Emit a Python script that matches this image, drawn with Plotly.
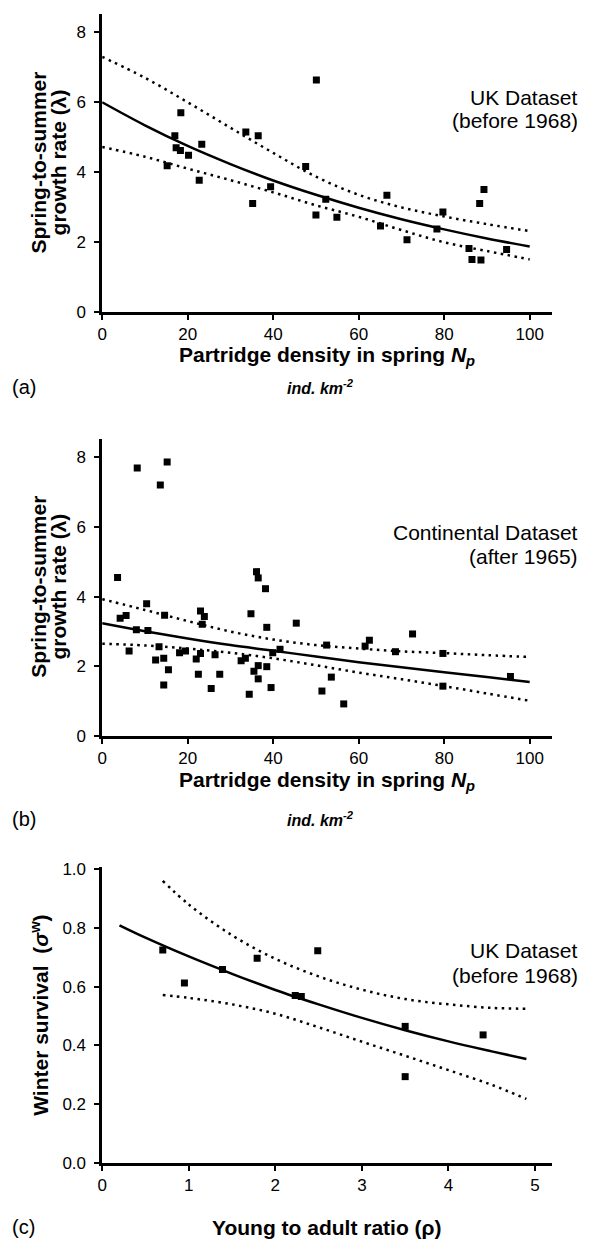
import plotly.graph_objects as go

# ---------------- data ----------------
# Panel (a): UK dataset, spring density vs growth rate
a_x = [15.2, 17.0, 17.3, 18.3, 18.4, 20.2, 22.7, 23.3, 33.6, 35.2, 36.5, 39.4, 47.6, 50.0,
       50.1, 52.3, 54.9, 65.1, 66.6, 71.3, 78.3, 79.7, 85.8, 86.5, 88.3, 88.6, 89.3, 94.6]
a_y = [4.18, 5.04, 4.70, 4.62, 5.70, 4.48, 3.77, 4.80, 5.15, 3.10, 5.04, 3.58, 4.16, 2.77,
       6.64, 3.22, 2.71, 2.46, 3.34, 2.06, 2.37, 2.86, 1.81, 1.50, 3.10, 1.48, 3.50, 1.78]
a_curve_x = [0, 10, 20, 30, 40, 50, 60, 70, 80, 90, 100]
a_fit = [6.00, 5.34, 4.75, 4.23, 3.76, 3.35, 2.98, 2.65, 2.36, 2.10, 1.87]
a_upper = [7.30, 6.70, 6.00, 5.27, 4.55, 3.87, 3.35, 2.99, 2.73, 2.51, 2.31]
a_lower = [4.72, 4.44, 4.10, 3.77, 3.42, 3.05, 2.72, 2.34, 1.99, 1.74, 1.50]

# Panel (b): Continental dataset
b_x = [3.6, 4.2, 5.6, 6.3, 8.0, 8.2, 10.4, 10.7, 12.5, 13.3, 13.6, 14.4, 14.4, 14.6, 15.2,
       15.5, 18.1, 19.5, 22.0, 22.5, 23.0, 23.0, 23.4, 23.9, 25.5, 26.4, 27.5, 32.5, 33.5,
       34.4, 34.8, 35.5, 36.1, 36.5, 36.5, 36.5, 38.2, 38.5, 38.5, 39.5, 39.9, 41.6, 45.4,
       51.4, 52.5, 53.6, 56.5, 61.5, 62.5, 68.6, 72.6, 79.7, 79.7, 95.5]
b_y = [4.55, 3.38, 3.46, 2.44, 3.05, 7.70, 3.80, 3.03, 2.18, 2.56, 7.21, 2.23, 1.46, 3.47,
       7.87, 1.90, 2.39, 2.44, 2.21, 1.77, 3.59, 2.37, 3.21, 3.43, 1.36, 2.33, 1.77, 2.16,
       2.23, 1.20, 3.51, 1.86, 4.72, 4.54, 2.02, 1.64, 4.23, 3.12, 1.99, 1.39, 2.39, 2.49,
       3.24, 1.29, 2.61, 1.69, 0.92, 2.58, 2.75, 2.42, 2.93, 2.37, 1.43, 1.71]
b_curve_x = [0, 10, 20, 30, 40, 50, 60, 70, 80, 90, 100]
b_fit = [3.24, 3.01, 2.80, 2.61, 2.45, 2.28, 2.12, 1.97, 1.83, 1.69, 1.55]
b_upper = [3.93, 3.62, 3.30, 3.00, 2.77, 2.61, 2.51, 2.43, 2.38, 2.32, 2.27]
b_lower = [2.65, 2.60, 2.51, 2.39, 2.23, 2.03, 1.82, 1.63, 1.43, 1.22, 1.01]

# Panel (c): winter survival vs young-to-adult ratio
c_x = [0.70, 0.95, 1.39, 1.79, 2.23, 2.30, 2.49, 3.50, 3.50, 4.40]
c_y = [0.725, 0.613, 0.659, 0.697, 0.570, 0.567, 0.722, 0.465, 0.294, 0.436]
c_fit_x = [0.2, 0.5, 1.0, 1.5, 2.0, 2.5, 3.0, 3.5, 4.0, 4.5, 4.9]
c_fit = [0.809, 0.767, 0.703, 0.644, 0.589, 0.540, 0.494, 0.452, 0.414, 0.380, 0.354]
c_band_x = [0.7, 1.0, 1.5, 2.0, 2.5, 3.0, 3.5, 4.0, 4.5, 4.9]
c_upper = [0.960, 0.880, 0.775, 0.695, 0.635, 0.590, 0.558, 0.540, 0.528, 0.525]
c_lower = [0.572, 0.562, 0.540, 0.508, 0.462, 0.413, 0.365, 0.316, 0.266, 0.218]

x_ticks_ab = [0, 20, 40, 60, 80, 100]
y_ticks_ab = [0, 2, 4, 6, 8]
x_ticks_c = [0, 1, 2, 3, 4, 5]
y_ticks_c = [0.0, 0.2, 0.4, 0.6, 0.8, 1.0]

# ---------------- layout helpers ----------------
W, H = 594, 1248
FONT = "Liberation Sans, Arial, sans-serif"


def px(x):
    return x / W


def py(y):
    return 1 - y / H


fig = go.Figure()

panels = [
    (a_x, a_y, a_curve_x, a_fit, a_curve_x, a_upper, a_lower, "x", "y"),
    (b_x, b_y, b_curve_x, b_fit, b_curve_x, b_upper, b_lower, "x2", "y2"),
    (c_x, c_y, c_fit_x, c_fit, c_band_x, c_upper, c_lower, "x3", "y3"),
]
for (xs, ys, fx, fy, bx, bu, bl, xa, ya) in panels:
    for band in (bu, bl):
        fig.add_trace(go.Scatter(x=bx, y=band, mode="lines", xaxis=xa, yaxis=ya,
                                 line=dict(color="black", width=2.5, dash="2.5px,4.5px",
                                           shape="spline"),
                                 hoverinfo="skip"))
    fig.add_trace(go.Scatter(x=fx, y=fy, mode="lines", xaxis=xa, yaxis=ya,
                             line=dict(color="black", width=2.5, shape="spline")))
    fig.add_trace(go.Scatter(x=xs, y=ys, mode="markers", xaxis=xa, yaxis=ya,
                             marker=dict(symbol="square", size=7, color="black")))

axis_common = dict(showline=True, linecolor="black", linewidth=2.5, ticks="outside",
                   ticklen=5, tickwidth=2, tickcolor="black", showgrid=False, zeroline=False,
                   tickfont=dict(family=FONT, size=17, color="black"))
y_extra = dict(ticklabelstandoff=5)

x_dom = [px(98), px(552)]
fig.update_layout(
    width=W, height=H, margin=dict(l=0, r=0, t=0, b=0),
    paper_bgcolor="white", plot_bgcolor="white", showlegend=False,
    font=dict(family=FONT, color="black"),
    xaxis=dict(domain=x_dom, range=[0, 105.3], tickvals=x_ticks_ab, anchor="y", **axis_common),
    yaxis=dict(domain=[py(309), py(7)], range=[0, 8.53], tickvals=y_ticks_ab, anchor="x",
               **axis_common, **y_extra),
    xaxis2=dict(domain=x_dom, range=[0, 105.3], tickvals=x_ticks_ab, anchor="y2", **axis_common),
    yaxis2=dict(domain=[py(739), py(438)], range=[0, 8.53], tickvals=y_ticks_ab, anchor="x2",
                **axis_common, **y_extra),
    xaxis3=dict(domain=x_dom, range=[0, 5.2], tickvals=x_ticks_c, anchor="y3", **axis_common),
    yaxis3=dict(domain=[py(1172), py(872)], range=[0, 1.007], tickvals=y_ticks_c,
                tickformat=".1f", anchor="x3", **axis_common, **y_extra),
)

ann = []


def add(text, x, y, size, angle=0, xanchor="center", align="center"):
    ann.append(dict(text=text, x=px(x), y=py(y), xref="paper", yref="paper", showarrow=False,
                    xanchor=xanchor, yanchor="middle", textangle=angle, align=align,
                    font=dict(family=FONT, size=size, color="black")))


# y-axis titles
for yc in (158, 588):
    add("<b>Spring-to-summer</b>", 34, yc, 21, angle=-90)
    add("<b>growth rate (λ)</b>", 54, yc, 21, angle=-90)
add("<b>Winter survival  (<i>σ</i><sup>w</sup>)</b>", 35, 1022, 21, angle=-90)

# x-axis titles
add("<b>Partridge density in spring <i>N<sub>p</sub></i></b>", 325, 354, 21)
add("<b>Partridge density in spring <i>N<sub>p</sub></i></b>", 325, 785, 21)
add("<b>Young to adult ratio (ρ)</b>", 325, 1237, 21)

# units
add("<b><i>ind. km<sup>-2</sup></i></b>", 318, 385, 16)
add("<b><i>ind. km<sup>-2</sup></i></b>", 318, 823, 16)

# panel letters
add("(a)", 5, 385, 20, xanchor="left")
add("(b)", 5, 823, 20, xanchor="left")
add("(c)", 5, 1237, 20, xanchor="left")

# dataset labels
for (l1, l2, y1, y2) in [("UK Dataset", "(before 1968)", 92, 115),
                         ("Continental Dataset", "(after 1965)", 533, 557),
                         ("UK Dataset", "(before 1968)", 957, 982)]:
    add(l1, 580, y1, 21, xanchor="right")
    add(l2, 580, y2, 21, xanchor="right")

fig.update_layout(annotations=ann)
fig.write_html("out.html", config={"displayModeBar": False},
               post_script="document.body.style.margin='0';document.body.style.overflow='hidden';")
